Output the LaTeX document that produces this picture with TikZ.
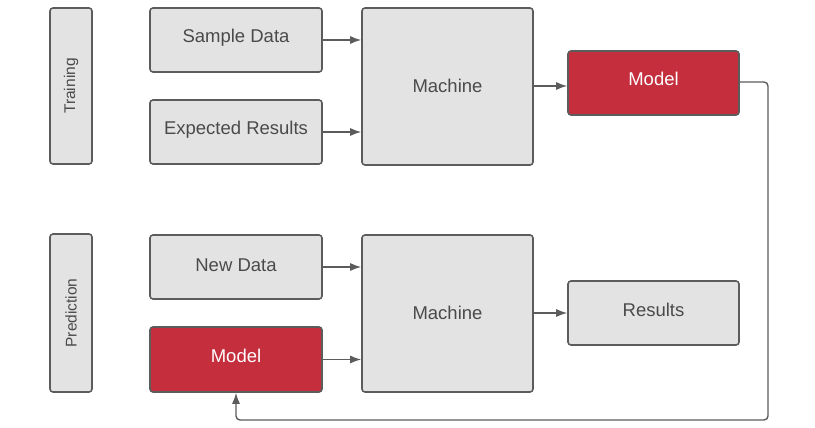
\documentclass[tikz,border=0pt]{standalone}
\usepackage{fontspec}
\setmainfont{Liberation Sans}
\usetikzlibrary{arrows.meta}
\definecolor{boxfill}{HTML}{E3E3E3}
\definecolor{boxline}{HTML}{5C5C5C}
\definecolor{txt}{HTML}{4A4A4A}
\definecolor{redfill}{HTML}{C42E3D}
\begin{document}
\begin{tikzpicture}[x=1pt,y=-1pt,
  box/.style={draw=boxline,fill=boxfill,line width=1.6pt,rounded corners=3pt,
    text=txt,font=\fontsize{18.5}{20}\selectfont,inner sep=0pt},
  redbox/.style={box,fill=redfill,text=white},
  side/.style={box,font=\fontsize{15.5}{17}\selectfont},
  lbl/.style={text=txt,font=\fontsize{18.5}{20}\selectfont},
  conn/.style={draw=boxline,line width=1.4pt,-{Latex[length=11pt,width=8pt]}}]
\useasboundingbox (0,0) rectangle (815,428);
% training row
\node[side,minimum width=42pt,minimum height=156pt] (train) at (71,86) {};
\node[rotate=90,text=txt,font=\fontsize{15.5}{17}\selectfont] (trainT) at (train.center) {Training};
\node[box,minimum width=172pt,minimum height=64pt] (sample) at (236,40) {};
\node[lbl] (sampleT) at (236,38) {Sample Data};
\node[box,minimum width=172pt,minimum height=64pt] (expected) at (236,132) {};
\node[lbl] (expectedT) at (236,130) {Expected Results};
\node[box,minimum width=171pt,minimum height=157pt] (mach1) at (447.5,86.5) {};
\node[lbl] (mach1T) at (447.5,86) {Machine};
\node[redbox,minimum width=171pt,minimum height=64pt] (model1) at (653.5,83) {};
\node[text=white,font=\fontsize{18.5}{20}\selectfont] (model1T) at (653.5,79) {Model};
% prediction row
\node[side,minimum width=42pt,minimum height=158pt] (pred) at (71,313) {};
\node[rotate=90,text=txt,font=\fontsize{15.5}{17}\selectfont] (predT) at (pred.center) {Prediction};
\node[box,minimum width=172pt,minimum height=64pt] (newdata) at (236,267) {};
\node[lbl] (newdataT) at (236,265) {New Data};
\node[redbox,minimum width=172pt,minimum height=65pt] (model2) at (236,359.5) {};
\node[text=white,font=\fontsize{18.5}{20}\selectfont] (model2T) at (236,356) {Model};
\node[box,minimum width=171pt,minimum height=157pt] (mach2) at (447.5,313.5) {};
\node[lbl] (mach2T) at (447.5,313) {Machine};
\node[box,minimum width=171pt,minimum height=64pt] (results) at (653.5,313) {};
\node[lbl] (resultsT) at (653.5,310) {Results};
% connectors
\draw[conn] (sample.east) -- (sample.east -| mach1.west);
\draw[conn] (expected.east) -- (expected.east -| mach1.west);
\draw[conn] (mach1.east |- 0,86) -- (model1.west |- 0,86);
\draw[conn] (newdata.east) -- (newdata.east -| mach2.west);
\draw[conn] (model2.east) -- (model2.east -| mach2.west);
\draw[conn] (mach2.east |- 0,313) -- (results.west |- 0,313);
\coordinate (c1) at (768,82);
\coordinate (c2) at (768,420);
\draw[conn,rounded corners=4pt] (model1.east |- c1) -- (c1) -- (c2) -- (model2.south |- c2) -- (model2.south);
\end{tikzpicture}
\end{document}
